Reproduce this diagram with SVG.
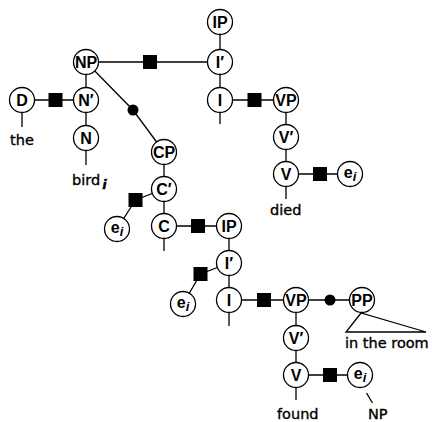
<svg xmlns="http://www.w3.org/2000/svg" width="432" height="422" viewBox="0 0 432 422">
  <style>
    .edge { stroke: #000; stroke-width: 1.3; fill: none; }
    .node circle { fill: #fff; stroke: #000; stroke-width: 1.3; }
    .lbl { font-family: "Liberation Sans", Arial, sans-serif; font-weight: bold; font-size: 16px; text-anchor: middle; fill: #000; }
    .sub { font-style: italic; font-size: 13px; }
    .word { font-family: "DejaVu Sans", sans-serif; font-size: 14.5px; fill: #000; stroke: #000; stroke-width: 0.35; }
    .sq { fill: #000; }
    .dot { fill: #000; }
  </style>
  <rect width="432" height="422" fill="#fff"/>

  <!-- connectors -->
  <g id="connectors">
    <line class="edge" x1="22" y1="100" x2="86" y2="100"/>
    <line class="edge" x1="86" y1="62" x2="86" y2="138"/>
    <line class="edge" x1="86" y1="62" x2="220" y2="62"/>
    <polyline class="edge" points="86,62 133,110 164,152"/>
    <line class="edge" x1="220" y1="22" x2="220" y2="100"/>
    <line class="edge" x1="220" y1="100" x2="286" y2="100"/>
    <line class="edge" x1="286" y1="100" x2="286" y2="174"/>
    <line class="edge" x1="286" y1="174" x2="350" y2="174"/>
    <line class="edge" x1="164" y1="152" x2="164" y2="226"/>
    <polyline class="edge" points="164,189 135.5,200 117,229"/>
    <line class="edge" x1="164" y1="226" x2="229" y2="226"/>
    <line class="edge" x1="229" y1="226" x2="229" y2="300"/>
    <polyline class="edge" points="229,263 200.5,274 183,304"/>
    <line class="edge" x1="229" y1="300" x2="362" y2="300"/>
    <line class="edge" x1="296" y1="300" x2="296" y2="375"/>
    <line class="edge" x1="296" y1="375" x2="360" y2="375"/>
    <!-- terminal stems -->
    <line class="edge" x1="22" y1="112" x2="22" y2="127"/>
    <line class="edge" x1="86" y1="150" x2="86" y2="165"/>
    <line class="edge" x1="220" y1="112" x2="220" y2="124"/>
    <line class="edge" x1="286" y1="186" x2="286" y2="199"/>
    <line class="edge" x1="164" y1="238" x2="164" y2="251"/>
    <line class="edge" x1="229" y1="312" x2="229" y2="326"/>
    <line class="edge" x1="296" y1="387" x2="296" y2="400"/>
    <line class="edge" x1="366.5" y1="393" x2="372.5" y2="403"/>
    <!-- PP phrase triangle -->
    <polygon class="edge" points="361,313 346,332 426,332"/>
    <!-- junction marks -->
    <rect class="sq" x="48.5" y="93" width="14" height="14"/>
    <rect class="sq" x="143" y="55" width="14" height="14"/>
    <rect class="sq" x="247.5" y="93" width="14" height="14"/>
    <rect class="sq" x="313" y="167" width="14" height="14"/>
    <rect class="sq" x="128.5" y="193" width="14" height="14"/>
    <rect class="sq" x="191" y="219" width="14" height="14"/>
    <rect class="sq" x="193.5" y="267" width="14" height="14"/>
    <rect class="sq" x="257" y="293" width="14" height="14"/>
    <rect class="sq" x="323" y="368" width="14" height="14"/>
    <circle class="dot" cx="133" cy="110" r="5.5"/>
    <circle class="dot" cx="330" cy="300" r="5.5"/>
  </g>

  <!-- nodes -->
  <g id="n-ip1" class="node"><circle cx="220" cy="22" r="12.5"/><text class="lbl" x="220" y="27.8">IP</text></g>
  <g id="n-ibar1" class="node"><circle cx="220" cy="62" r="12.5"/><text class="lbl" x="220" y="67.8">I′</text></g>
  <g id="n-i1" class="node"><circle cx="220" cy="100" r="12.5"/><text class="lbl" x="220" y="105.8">I</text></g>
  <g id="n-np" class="node"><circle cx="86" cy="62" r="12.5"/><text class="lbl" x="86" y="67.8">NP</text></g>
  <g id="n-nbar" class="node"><circle cx="86" cy="100" r="12.5"/><text class="lbl" x="86" y="105.8">N′</text></g>
  <g id="n-d" class="node"><circle cx="22" cy="100" r="12.5"/><text class="lbl" x="22" y="105.8">D</text></g>
  <g id="n-n" class="node"><circle cx="86" cy="138" r="12.5"/><text class="lbl" x="86" y="143.8">N</text></g>
  <g id="n-cp" class="node"><circle cx="164" cy="152" r="12.5"/><text class="lbl" x="164" y="157.8">CP</text></g>
  <g id="n-cbar" class="node"><circle cx="164" cy="189" r="12.5"/><text class="lbl" x="164" y="194.8">C′</text></g>
  <g id="n-c" class="node"><circle cx="164" cy="226" r="12.5"/><text class="lbl" x="164" y="231.8">C</text></g>
  <g id="n-e1" class="node"><circle cx="117" cy="229" r="12.5"/><text class="lbl" x="117" y="233">e<tspan class="sub" dy="3">i</tspan></text></g>
  <g id="n-vp1" class="node"><circle cx="286" cy="100" r="12.5"/><text class="lbl" x="286" y="105.8">VP</text></g>
  <g id="n-vbar1" class="node"><circle cx="286" cy="137" r="12.5"/><text class="lbl" x="286" y="142.8">V′</text></g>
  <g id="n-v1" class="node"><circle cx="286" cy="174" r="12.5"/><text class="lbl" x="286" y="179.8">V</text></g>
  <g id="n-e2" class="node"><circle cx="350" cy="174" r="12.5"/><text class="lbl" x="350" y="178">e<tspan class="sub" dy="3">i</tspan></text></g>
  <g id="n-ip2" class="node"><circle cx="229" cy="226" r="12.5"/><text class="lbl" x="229" y="231.8">IP</text></g>
  <g id="n-ibar2" class="node"><circle cx="229" cy="263" r="12.5"/><text class="lbl" x="229" y="268.8">I′</text></g>
  <g id="n-i2" class="node"><circle cx="229" cy="300" r="12.5"/><text class="lbl" x="229" y="305.8">I</text></g>
  <g id="n-e3" class="node"><circle cx="183" cy="304" r="12.5"/><text class="lbl" x="183" y="308">e<tspan class="sub" dy="3">i</tspan></text></g>
  <g id="n-vp2" class="node"><circle cx="296" cy="300" r="12.5"/><text class="lbl" x="296" y="305.8">VP</text></g>
  <g id="n-pp" class="node"><circle cx="362" cy="300" r="12.5"/><text class="lbl" x="362" y="305.8">PP</text></g>
  <g id="n-vbar2" class="node"><circle cx="296" cy="338" r="12.5"/><text class="lbl" x="296" y="343.8">V′</text></g>
  <g id="n-v2" class="node"><circle cx="296" cy="375" r="12.5"/><text class="lbl" x="296" y="380.8">V</text></g>
  <g id="n-e4" class="node"><circle cx="360" cy="375" r="12.5"/><text class="lbl" x="360" y="379">e<tspan class="sub" dy="3">i</tspan></text></g>

  <!-- terminal words -->
  <g id="words">
    <text class="word" x="10" y="145">the</text>
    <text class="word" x="72" y="185">bird<tspan font-style="italic" font-weight="bold" font-size="13" dx="2" dy="4">i</tspan></text>
    <text class="word" x="270" y="215">died</text>
    <text class="word" x="345" y="348">in the room</text>
    <text class="word" x="277" y="419">found</text>
    <text class="word" x="368" y="419">NP</text>
  </g>
</svg>
